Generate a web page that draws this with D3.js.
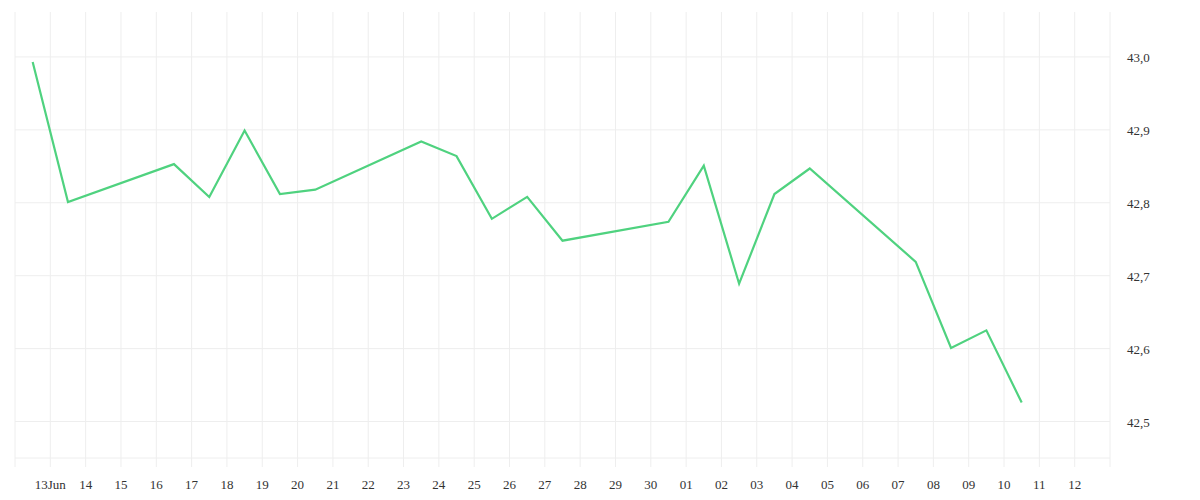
<!DOCTYPE html><html><head><meta charset="utf-8"><script src="https://cdn.jsdelivr.net/npm/d3@7"></script>
<style>body{margin:0;background:#fff}text{font-family:"Liberation Serif","DejaVu Serif",serif;font-size:13px;fill:#333}</style></head><body><svg id="c" width="1200" height="500"></svg><script>
const dates=["2025-06-12","2025-06-13","2025-06-16","2025-06-17","2025-06-18","2025-06-19","2025-06-20","2025-06-23","2025-06-24","2025-06-25","2025-06-26","2025-06-27","2025-06-30","2025-07-01","2025-07-02","2025-07-03","2025-07-04","2025-07-07","2025-07-08","2025-07-09","2025-07-10"];
const values=[42.993,42.801,42.853,42.808,42.899,42.812,42.818,42.884,42.864,42.778,42.808,42.748,42.774,42.851,42.689,42.812,42.847,42.719,42.601,42.625,42.526];
const yTicks=[42.5,42.6,42.7,42.8,42.9,43.0];
const svg=d3.select("#c");
const p=d3.timeParse("%Y-%m-%d");
const x=d3.scaleTime().domain([new Date(2025,5,12),new Date(2025,6,13)]).range([15,1110]);
const y=d3.scaleLinear().domain([42.45,43.0616]).range([458,12]);
const days=d3.timeDay.range(new Date(2025,5,13),new Date(2025,6,13));
const g=svg.append("g");
g.selectAll(".v").data([new Date(2025,5,12),...days,new Date(2025,6,13)]).join("line").attr("x1",d=>x(d)).attr("x2",d=>x(d)).attr("y1",12).attr("y2",d=>(+d===+new Date(2025,5,12)||+d===+new Date(2025,6,13))?467:458).attr("stroke","#eee");
g.selectAll(".h").data([...yTicks,42.45]).join("line").attr("x1",15).attr("x2",1110).attr("y1",d=>y(d)).attr("y2",d=>y(d)).attr("stroke","#eee");
g.selectAll(".t").data(days).join("line").attr("x1",d=>x(d)).attr("x2",d=>x(d)).attr("y1",458).attr("y2",467).attr("stroke","#eee");
svg.append("g").selectAll("text").data(days).join("text").attr("x",d=>x(d)).attr("y",489).attr("text-anchor","middle").text(d=>d.getDate()===13&&d.getMonth()===5?"13Jun":d3.timeFormat("%d")(d));
svg.append("g").selectAll("text").data(yTicks).join("text").attr("x",1127).attr("y",d=>y(d)+5).text(d=>d3.format(".1f")(d).replace(".",","));
const pts=dates.map((d,i)=>({t:d3.timeHour.offset(p(d),12),v:values[i]}));
svg.append("path").datum(pts).attr("d",d3.line().x(d=>x(d.t)).y(d=>y(d.v))).attr("fill","none").attr("stroke","#4fd27f").attr("stroke-width",2.2);
</script></body></html>
